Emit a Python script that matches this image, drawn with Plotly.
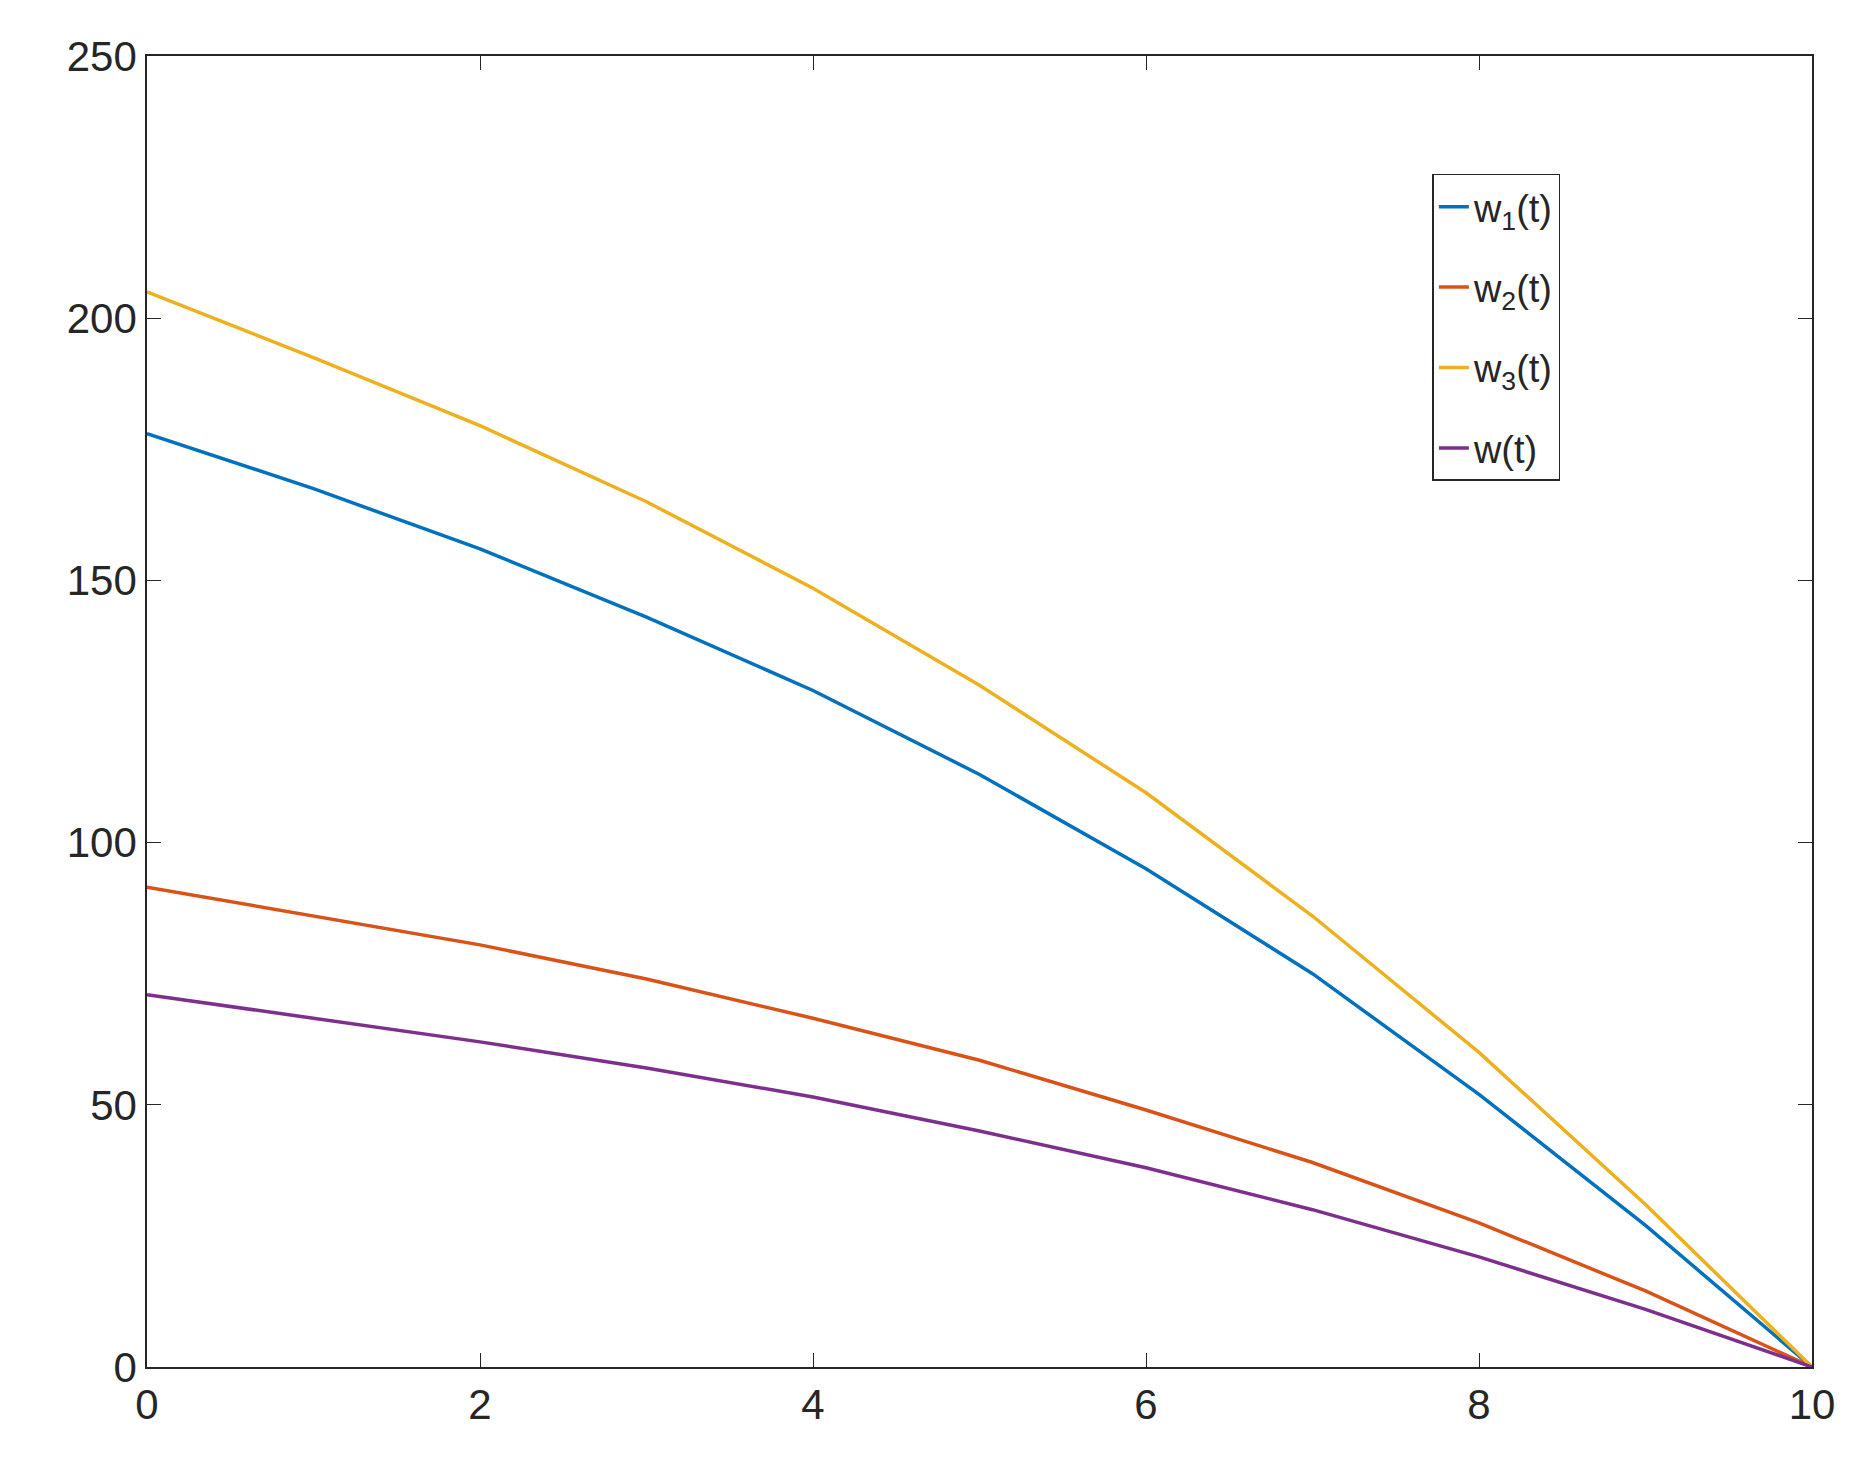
import plotly.graph_objects as go

t = [0, 1, 2, 3, 4, 5, 6, 7, 8, 9, 10]
w1 = [178, 167.5, 156, 143, 129, 113, 95, 75, 52, 27, 0]
w2 = [91.5, 86, 80.5, 74, 66.5, 58.5, 49, 39, 27.5, 14.5, 0]
w3 = [205, 192.5, 179.5, 165, 148.5, 130, 109.5, 86, 60, 31, 0]
w = [71, 66.5, 62, 57, 51.5, 45, 38, 30, 21, 11, 0]
names = ["w<sub>1</sub>(t)", "w<sub>2</sub>(t)", "w<sub>3</sub>(t)", "w(t)"]
colors = ["#0072BD", "#D95319", "#EDB120", "#7E2F8E"]

fig = go.Figure()
for i, (ys, n, c) in enumerate(zip([w1, w2, w3, w], names, colors)):
    fig.add_trace(go.Scatter(x=t, y=ys, name=n, mode="lines", legendgroup=f"g{i}",
                             line=dict(color=c, width=3.5)))

ax = dict(showgrid=False, zeroline=False, showline=True, linecolor="#262626", linewidth=1.5,
          mirror="ticks", ticks="inside", ticklen=14, tickcolor="#262626",
          tickfont=dict(family="Liberation Sans, Arial", size=42, color="#262626"))
fig.update_xaxes(range=[0, 10], dtick=2, **ax)
fig.update_yaxes(range=[0, 250], dtick=50, **ax)
fig.update_layout(
    width=1870, height=1472, plot_bgcolor="white", paper_bgcolor="white",
    margin=dict(l=139, r=66, t=48, b=113),
    legend=dict(x=0.772, y=0.91, xanchor="left", yanchor="top", bgcolor="white",
                bordercolor="#262626", borderwidth=1.5,
                font=dict(family="Liberation Sans, Arial", size=38, color="#262626"),
                tracegroupgap=28),
)
fig.write_html("out.html")
